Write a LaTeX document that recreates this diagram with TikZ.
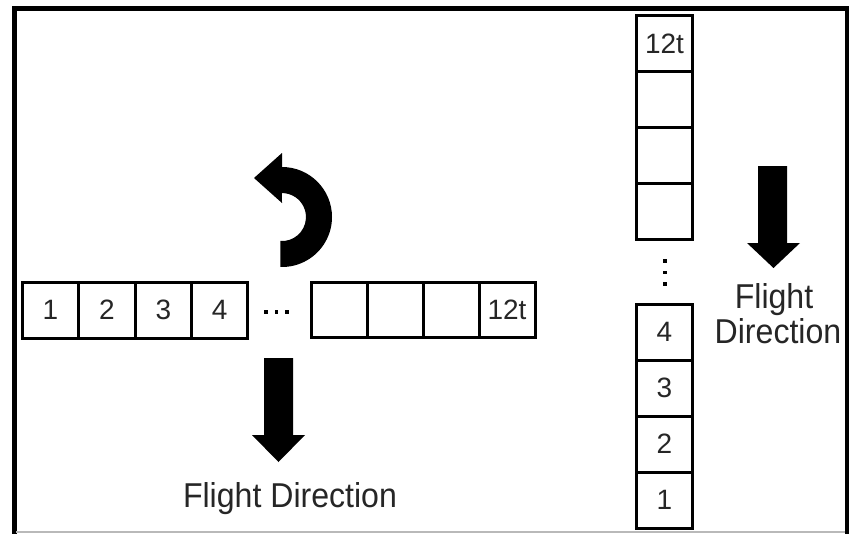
\documentclass[tikz,border=0pt]{standalone}
\usepackage{fontspec}
\setmainfont{Liberation Sans}
% slightly condensed face for the direction labels
\newfontfamily\lblfont{Liberation Sans}[FakeStretch=0.93]
\begin{document}
\begin{tikzpicture}[x=1pt,y=-1pt,
  cell/.style={draw=black,line width=3pt,minimum width=56.4pt,minimum height=56pt,
    inner sep=0pt,text=black!85,font=\fontsize{28}{30}\selectfont},
  rcell/.style={cell,minimum width=56pt,minimum height=55pt},
  vcell/.style={cell,minimum width=56pt,minimum height=56pt},
  lbl/.style={font=\lblfont\fontsize{34.5}{38}\selectfont,text=black!85,inner sep=0pt,anchor=base},
  dotsq/.style={fill=black,minimum size=3.2pt,inner sep=0pt},
  blockarrow/.style={fill=black}]
\useasboundingbox (0,0) rectangle (849,533);
\fill[white] (0,0) rectangle (849,533);

% outer frame
\draw[line width=5pt] (14.5,545) -- (14.5,8.5) -- (847,8.5) -- (847,545);
\draw[line width=1.5pt,gray!55] (16,532) -- (845,532);

% horizontal strip, first cells
\node[cell] (h1) at (50.5,310) {1};
\node[cell] (h2) at (106.9,310) {2};
\node[cell] (h3) at (163.3,310) {3};
\node[cell] (h4) at (219.7,310) {4};
% ellipsis
\node[dotsq] (hd1) at (266,312) {};
\node[dotsq] (hd2) at (276.5,312) {};
\node[dotsq] (hd3) at (287,312) {};
% horizontal strip, last cells
\node[rcell] (h9)  at (339,310) {};
\node[rcell] (h10) at (395,310) {};
\node[rcell] (h11) at (451,310) {};
\node[rcell] (h12) at (507,310) {12t};

% vertical strip, last cells on top
\node[vcell] (v12) at (664.5,43.7) {12t};
\node[vcell] (v11) at (664.5,99.7) {};
\node[vcell] (v10) at (664.5,155.7) {};
\node[vcell] (v9)  at (664.5,211.7) {};
% vertical ellipsis
\node[dotsq] (vd1) at (665,261) {};
\node[dotsq] (vd2) at (665,272.5) {};
\node[dotsq] (vd3) at (665,284) {};
% vertical strip, first cells at the bottom
\node[vcell] (v4) at (664.5,332) {4};
\node[vcell] (v3) at (664.5,388) {3};
\node[vcell] (v2) at (664.5,444) {2};
\node[vcell] (v1) at (664.5,500) {1};

% rotation arrow
\fill (282,167) arc[start angle=90,end angle=-92,radius=50pt]
  -- (280.3,241) arc[start angle=-94,end angle=90,radius=24pt]
  -- (282,203) -- (254,178) -- (282,153) -- cycle;

% flight direction arrows
\fill[blockarrow] (264,358) -- (293,358) -- (293,435) -- (305,435) -- (278.5,462)
  -- (252,435) -- (264,435) -- cycle;
\fill[blockarrow] (758,166) -- (787,166) -- (787,243) -- (800,243) -- (773.5,268)
  -- (747,243) -- (758,243) -- cycle;

% labels
\node[lbl] (fdh) at (290,507) {Flight Direction};
\node[lbl] (fdv1) at (774,308) {Flight};
\node[lbl] (fdv2) at (778,343) {Direction};
\end{tikzpicture}
\end{document}
